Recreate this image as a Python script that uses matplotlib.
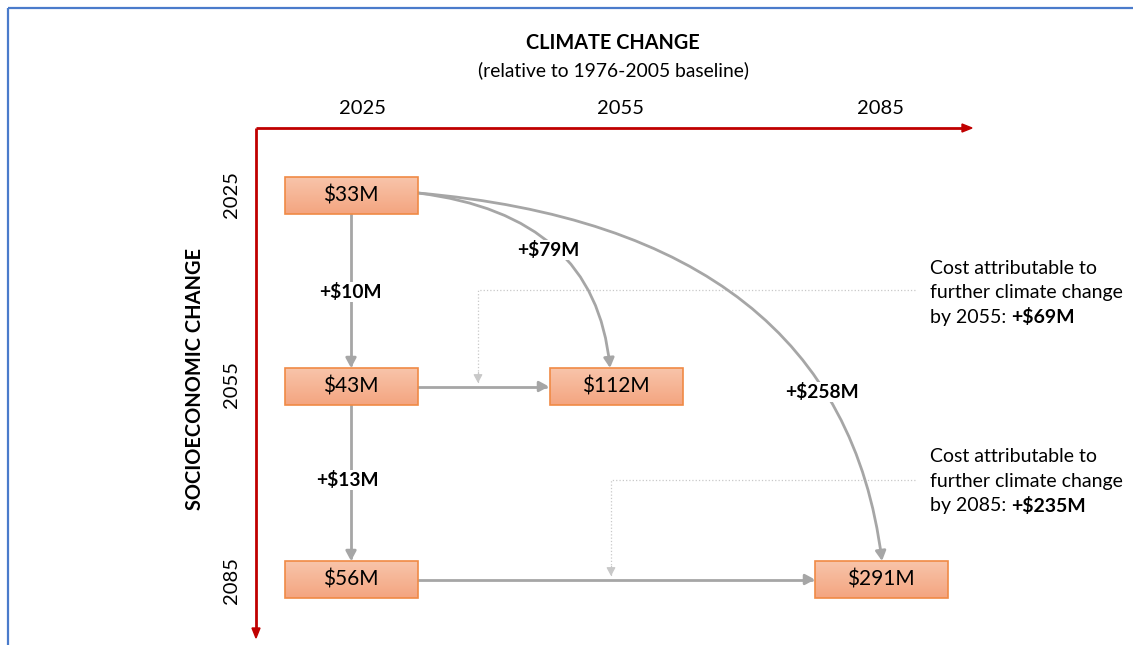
import matplotlib.pyplot as plt
import numpy as np
from matplotlib.patches import FancyArrowPatch, Rectangle
from matplotlib.path import Path

plt.rcParams['font.family'] = ['Lato', 'DejaVu Sans']

# data
years = ['2025', '2055', '2085']
# (socioeconomic year index, climate year index, cost $M)
boxes = [(0, 0, 33), (1, 0, 43), (1, 1, 112), (2, 0, 56), (2, 2, 291)]
socio_steps = [10, 13]          # 2025->2055, 2055->2085 at 2025 climate
climate_jumps = [79, 258]       # $33M -> $112M, $33M -> $291M
attributable = [69, 235]        # further climate change by 2055 / 2085

# layout (pixels)
col_x = [351, 616, 881]
row_y = [195.5, 386.5, 579.5]
bw, bh = 133, 37
gray = '#A6A6A6'
red = '#C00000'

fig = plt.figure(figsize=(11.33, 6.45), dpi=100)
ax = fig.add_axes([0, 0, 1, 1])
ax.set_xlim(0, 1133)
ax.set_ylim(645, 0)
ax.axis('off')

# frame
ax.add_patch(Rectangle((8, 8), 1200, 700, fill=False, ec='#4A7BCB', lw=1.6))

# titles
ax.text(613, 43, 'CLIMATE CHANGE', ha='center', va='center', fontsize=14.3, weight='bold')
ax.text(614, 70, '(relative to 1976-2005 baseline)', ha='center', va='center', fontsize=13.9)
for x, lab in zip([362, 620, 880], years):
    ax.text(x, 108, lab, ha='center', va='center', fontsize=14.5)
for y, lab in zip([195, 385, 580], years):
    ax.text(232, y, lab, ha='center', va='center', fontsize=14.5, rotation=90)
ax.text(195, 379, 'SOCIOECONOMIC CHANGE', ha='center', va='center', fontsize=14.4,
        weight='bold', rotation=90)

# red axes
ax.plot([256, 256], [128, 630], color=red, lw=2, solid_capstyle='butt')
ax.plot([256, 962], [128, 128], color=red, lw=2, solid_capstyle='butt')
ax.add_patch(plt.Polygon([[962, 124], [972, 128], [962, 132]], color=red))
ax.add_patch(plt.Polygon([[252, 628], [256, 638], [260, 628]], color=red))


def arrow(p0, p1, ctrl=None, color=gray, lw=2, ls='-', head=8):
    if ctrl is None:
        path = Path([p0, p1], [Path.MOVETO, Path.LINETO])
    else:
        path = Path([p0, ctrl, p1], [Path.MOVETO, Path.CURVE3, Path.CURVE3])
    a = FancyArrowPatch(path=path, arrowstyle='-|>,head_length=%g,head_width=%g' % (head / 1.4, head / 2.6),
                        color=color, lw=lw, ls=ls, shrinkA=0, shrinkB=0, zorder=2)
    ax.add_patch(a)


# dotted connectors for attributable cost
ax.plot([915, 478, 478], [290, 290, 376], color='#C8C8C8', lw=0.9, ls=':')
arrow((478, 372), (478, 383), color='#C8C8C8', lw=0.9, head=7)
ax.plot([915, 611, 611], [480, 480, 569], color='#C8C8C8', lw=0.9, ls=':')
arrow((611, 566), (611, 576), color='#C8C8C8', lw=0.9, head=7)

# arrows between scenarios
arrow((351, 214), (351, 368))
arrow((351, 405), (351, 561))
arrow((418, 386.5), (549, 386.5))
arrow((418, 579.5), (815, 579.5))
arrow((418, 193), (610, 368), ctrl=(595, 215))
arrow((418, 193), (882, 561), ctrl=(840, 230))

# step labels
lab_kw = dict(ha='center', va='center', fontsize=13.8, weight='bold', zorder=3,
              bbox=dict(fc='white', ec='none', pad=1))
ax.text(350, 292, '+$%dM' % socio_steps[0], **lab_kw)
ax.text(347, 480, '+$%dM' % socio_steps[1], **lab_kw)
ax.text(548, 250, '+$%dM' % climate_jumps[0], **lab_kw)
ax.text(822, 392, '+$%dM' % climate_jumps[1], **lab_kw)

# boxes with gradient
grad = np.linspace(0, 1, 50)[:, None]
top = np.array([248, 196, 170]) / 255
bot = np.array([244, 165, 128]) / 255
img = top + (bot - top) * grad[:, :, None]
for si, ci, v in boxes:
    cx, cy = col_x[ci], row_y[si]
    ax.imshow(img, extent=(cx - bw / 2, cx + bw / 2, cy + bh / 2, cy - bh / 2),
              aspect='auto', zorder=4, interpolation='bilinear')
    ax.add_patch(Rectangle((cx - bw / 2, cy - bh / 2), bw, bh, fill=False,
                           ec='#F08a45', lw=1.2, zorder=5))
    ax.text(cx, cy, '$%dM' % v, ha='center', va='center', fontsize=15, zorder=6)
ax.set_xlim(0, 1133)
ax.set_ylim(645, 0)

# side notes
for y0, yr, val in [(268, '2055', attributable[0]), (457, '2085', attributable[1])]:
    ax.text(930, y0, 'Cost attributable to', ha='left', va='center', fontsize=14)
    ax.text(930, y0 + 24.5, 'further climate change', ha='left', va='center', fontsize=14)
    t = ax.text(930, y0 + 49, 'by %s: ' % yr, ha='left', va='center', fontsize=14)
    ax.annotate('+$%dM' % val, xy=(1, 0.5), xycoords=t, ha='left', va='center',
                fontsize=14, weight='bold')

fig.savefig('out.png', dpi=100)
